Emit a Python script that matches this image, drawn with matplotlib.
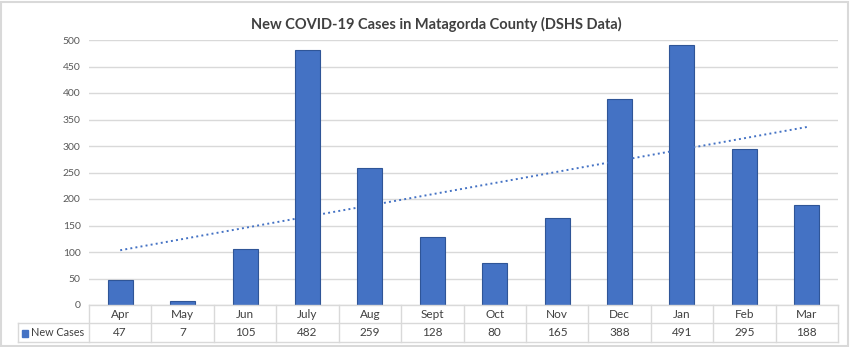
import matplotlib.pyplot as plt
import numpy as np
from matplotlib.patches import Rectangle

months = ['Apr', 'May', 'Jun', 'July', 'Aug', 'Sept', 'Oct', 'Nov', 'Dec', 'Jan', 'Feb', 'Mar']
new_cases = [47, 7, 105, 482, 259, 128, 80, 165, 388, 491, 295, 188]
yticks = [0, 50, 100, 150, 200, 250, 300, 350, 400, 450, 500]

plt.rcParams['font.family'] = ['Lato', 'DejaVu Sans']

W, H = 850, 347
fig = plt.figure(figsize=(W / 100, H / 100), dpi=100)
ax = fig.add_axes([89 / W, (H - 305) / H, (838 - 89) / W, (305 - 40) / H])

x = np.arange(len(months))
ax.bar(x, new_cases, width=0.4, color='#4472C4', edgecolor='#2F5597', linewidth=0.8, zorder=3)

# linear trendline (Excel style)
m, b = np.polyfit(x + 1, new_cases, 1)
ax.plot(x, m * (x + 1) + b, color='#4472C4', linestyle=':', linewidth=1.4, zorder=4)

ax.set_xlim(-0.5, len(months) - 0.5)
ax.set_ylim(0, 500)
ax.set_yticks(yticks)
ax.set_yticklabels([str(v) for v in yticks], fontsize=7.5, color='#595959')
ax.tick_params(axis='y', length=0, pad=6)
ax.set_xticks([])
ax.grid(axis='y', color='#d9d9d9', linewidth=1, zorder=0)
for s in ax.spines.values():
    s.set_visible(False)

# data table drawn below the plot
grid_c = '#d9d9d9'
y0, y1, y2 = 305, 323, 342
def fx(px):
    return px / W
def fy(py):
    return 1 - py / H

left_px, x_l, x_r = 18, 89, 838
cell = (x_r - x_l) / len(months)
fig.add_artist(plt.Line2D([fx(x_l), fx(x_r)], [fy(y0), fy(y0)], color=grid_c, lw=1))
fig.add_artist(plt.Line2D([fx(left_px), fx(x_r)], [fy(y1), fy(y1)], color=grid_c, lw=1))
fig.add_artist(plt.Line2D([fx(left_px), fx(x_r)], [fy(y2), fy(y2)], color=grid_c, lw=1))
fig.add_artist(plt.Line2D([fx(left_px), fx(left_px)], [fy(y1), fy(y2)], color=grid_c, lw=1))
for i in range(len(months) + 1):
    px = x_l + i * cell
    fig.add_artist(plt.Line2D([fx(px), fx(px)], [fy(y0), fy(y2)], color=grid_c, lw=1))
for i, (mo, v) in enumerate(zip(months, new_cases)):
    cx = x_l + (i + 0.5) * cell
    fig.text(fx(cx), fy((y0 + y1) / 2), mo, ha='center', va='center', fontsize=8.5, color='#404040')
    fig.text(fx(cx), fy((y1 + y2) / 2), str(v), ha='center', va='center', fontsize=8.5, color='#404040')
fig.add_artist(Rectangle((fx(22), fy(336.5)), 6 / W, 7 / H, color='#4472C4'))
fig.text(fx(31), fy((y1 + y2) / 2), 'New Cases', ha='left', va='center', fontsize=7.8, color='#404040')

fig.text(fx(436), fy(24), 'New COVID-19 Cases in Matagorda County (DSHS Data)', ha='center', va='center',
         fontsize=10.5, fontweight='bold', color='#404040')

# light outer frame
fig.add_artist(Rectangle((1 / W, 1 / H), 1 - 3 / W, 1 - 3 / H, fill=False, edgecolor='#d9d9d9', lw=1.5))

fig.savefig('out.png', dpi=100)
